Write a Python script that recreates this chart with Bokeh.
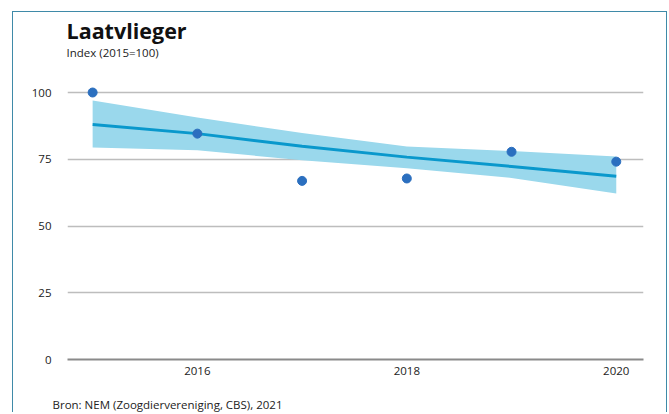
from bokeh.plotting import figure
from bokeh.models import Range1d, FixedTicker, Title
from bokeh.embed import file_html
from bokeh.resources import INLINE

# Data
years = [2015, 2016, 2017, 2018, 2019, 2020]
index_values = [100.0, 84.6, 66.9, 67.8, 77.8, 74.1]
trend = [88.0, 84.6, 79.9, 75.8, 72.3, 68.6]
upper = [97.0, 90.6, 84.8, 79.8, 78.1, 76.0]
lower = [79.4, 78.4, 74.6, 71.6, 68.0, 62.2]
x_ticks = [2016, 2018, 2020]
y_ticks = [0, 25, 50, 75, 100]

title_text = "Laatvlieger"
subtitle_text = "Index (2015=100)"
source_text = "Bron: NEM (Zoogdiervereniging, CBS), 2021"

FONT = "Open Sans"
TXT = "#222222"
BORDER = "1.5px solid #3f8aa8"

p = figure(
    width=655, height=401,
    output_backend="svg", toolbar_location=None,
    x_range=Range1d(2014.76, 2020.26), y_range=Range1d(0, 104.5),
    min_border_left=54, min_border_right=25, min_border_top=68, min_border_bottom=20,
    margin=(11, 0, 0, 12),
)
p.styles = {"border-top": BORDER, "border-left": BORDER, "border-right": BORDER}
p.outline_line_color = None
p.background_fill_color = "white"
p.border_fill_color = "white"

# top: spacer (closest to frame), subtitle, title
p.add_layout(Title(text=" ", text_font=FONT, text_font_size="8px", standoff=10), "above")
p.add_layout(Title(text=subtitle_text, text_font=FONT, text_font_size="11.5px",
                   text_font_style="normal", text_color=TXT, align="left", offset=-1,
                   standoff=-4), "above")
p.add_layout(Title(text=title_text, text_font=FONT, text_font_size="21.5px",
                   text_font_style="bold", text_color="#111111", align="left", offset=-1,
                   standoff=0), "above")

# bottom: spacer after the axis, then source
p.add_layout(Title(text=" ", text_font=FONT, text_font_size="8px", standoff=2), "below")
p.add_layout(Title(text=source_text, text_font=FONT, text_font_size="11.5px",
                   text_font_style="normal", text_color=TXT, align="left", offset=-15,
                   standoff=4), "below")

# confidence band, trend, observations
p.varea(x=years, y1=lower, y2=upper, fill_color="#9ad8ec", fill_alpha=1.0)
p.line(x=years, y=trend, line_color="#0998cc", line_width=3)
p.scatter(x=years, y=index_values, size=9, fill_color="#2b6fbf", line_color="#2b6fbf")

# axes
p.xaxis.ticker = FixedTicker(ticks=x_ticks)
p.yaxis.ticker = FixedTicker(ticks=y_ticks)
p.xgrid.visible = False
p.ygrid.ticker = FixedTicker(ticks=[25, 50, 75, 100])
p.ygrid.grid_line_color = "#bdbdbd"
p.ygrid.grid_line_width = 1.5

for ax in (p.xaxis, p.yaxis):
    ax.major_tick_line_color = None
    ax.minor_tick_line_color = None
    ax.major_label_text_font = FONT
    ax.major_label_text_font_size = "11.5px"
    ax.major_label_text_color = TXT
p.yaxis.axis_line_color = None
p.yaxis.major_label_standoff = 10
p.xaxis.axis_line_color = "#8a8a8a"
p.xaxis.axis_line_width = 2
p.xaxis.major_label_standoff = 1

open("out.html", "w").write(file_html(p, INLINE))
